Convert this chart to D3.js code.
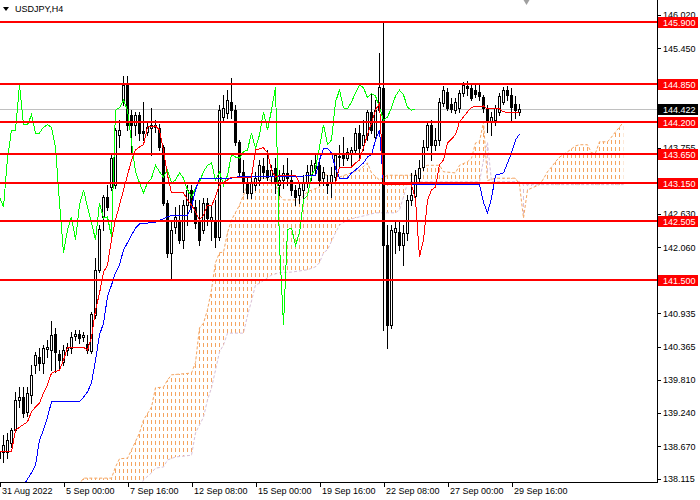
<!DOCTYPE html>
<html>
<head>
<meta charset="utf-8">
<script src="https://cdn.jsdelivr.net/npm/d3@7"></script>
<style>
  html, body { margin: 0; padding: 0; background: #fff; }
  svg { display: block; }
  text { font-family: 'Liberation Sans', Arial, sans-serif; }
</style>
</head>
<body>
<div id="chart"></div>
<script>
// USDJPY H4 candles, one entry per bar (bar 0 = 31 Aug 2022)
const barOpen = [138.47,138.58,138.58,138.73,138.95,139.46,139.51,139.26,139.55,140.06,
  140.19,140.09,140.33,140.31,140.58,140.24,140.11,140.31,140.35,140.55,
  140.58,140.53,140.41,140.29,140.91,141.68,142.58,142.92,143.09,143.12,
  143.98,144.57,144.83,144.32,144.15,144.32,144.04,144.03,144.10,144.15,
  144.10,143.77,142.82,141.97,142.41,142.50,142.19,142.78,143.04,142.75,
  142.53,142.36,142.82,142.53,142.53,142.24,144.28,144.35,144.54,144.40,
  143.86,143.35,143.16,142.99,143.12,143.21,143.45,143.38,143.28,143.41,
  143.12,143.21,143.33,143.21,143.04,142.95,143.04,143.18,143.29,143.41,
  143.46,143.24,143.18,143.16,143.26,143.62,143.64,143.58,143.67,143.72,
  144.01,143.81,143.98,144.37,143.94,144.40,144.78,142.10,140.74,142.33,
  142.33,142.10,142.31,142.87,142.94,143.24,143.43,143.77,144.15,143.81,
  143.89,144.52,144.71,144.51,144.40,144.44,144.69,144.81,144.78,144.74,
  144.71,144.62,144.44,144.20,144.23,144.37,144.54,144.74,144.66,144.51,
  144.37];
const barHigh = [138.78,138.87,138.90,138.99,139.60,139.68,139.68,139.68,140.06,140.28,
  140.34,140.40,140.48,140.80,140.68,140.31,140.40,140.43,140.62,140.65,
  140.65,140.62,140.57,140.96,141.88,142.44,142.95,143.12,143.64,144.10,
  144.23,144.98,144.98,144.40,144.37,144.37,144.54,144.18,144.44,144.23,
  144.16,143.81,142.87,142.50,142.75,142.78,142.87,143.12,143.12,142.87,
  142.87,142.90,142.90,142.78,142.87,144.49,144.66,144.74,144.95,144.49,
  143.89,143.55,143.24,143.29,143.35,143.55,143.58,143.72,143.46,143.58,
  143.38,143.46,143.58,143.38,143.12,143.16,143.29,143.46,143.55,143.64,
  143.58,143.43,143.29,143.43,143.67,143.81,143.94,143.75,143.77,144.10,
  144.15,144.23,144.40,144.69,144.57,145.37,145.90,142.44,142.44,142.53,
  142.50,142.44,142.95,143.33,143.38,143.55,143.89,144.20,144.23,144.10,
  144.61,144.81,144.78,144.61,144.61,144.74,144.88,144.90,144.86,144.85,
  144.83,144.66,144.49,144.37,144.49,144.69,144.79,144.81,144.78,144.64,
  144.51];
const barLow = [138.27,138.41,138.47,138.66,138.92,139.34,139.17,139.19,139.41,139.92,
  139.97,139.92,140.19,139.97,139.94,139.97,140.06,140.23,140.26,140.48,
  140.43,140.46,140.26,140.26,140.86,141.64,142.36,142.70,143.04,143.07,
  143.77,144.49,144.06,143.69,143.98,143.89,143.89,143.98,143.64,144.03,
  143.72,142.78,141.90,141.51,142.31,142.14,142.05,142.44,142.67,142.39,
  142.10,142.31,142.44,142.19,142.07,142.19,144.23,144.27,144.27,143.81,
  143.29,143.01,142.90,142.90,143.04,143.12,143.24,143.21,143.18,142.99,
  142.95,143.07,143.12,142.95,142.78,142.82,142.87,143.09,143.21,143.29,
  143.12,143.12,142.99,142.92,143.21,143.41,143.46,143.55,143.46,143.69,
  143.55,143.72,143.89,144.01,143.89,144.37,140.65,140.35,140.69,141.97,
  142.02,141.76,142.19,142.78,142.87,143.18,143.38,143.72,143.55,143.72,
  143.81,144.47,144.40,144.37,144.35,144.37,144.64,144.66,144.57,144.62,
  144.57,144.37,144.03,143.98,144.15,144.32,144.51,144.57,144.23,144.27,
  144.32];
const barClose = [138.58,138.69,138.78,138.95,139.46,139.51,139.24,139.58,139.89,140.23,
  140.09,140.34,140.36,140.57,140.28,140.14,140.31,140.36,140.53,140.58,
  140.51,140.57,140.31,140.92,141.68,142.38,142.92,142.75,143.58,144.06,
  144.06,144.83,144.15,144.15,144.32,144.01,144.01,144.11,144.15,144.11,
  143.77,142.82,141.97,142.36,142.58,142.19,142.78,143.04,142.75,142.48,
  142.19,142.82,142.56,142.58,142.24,144.40,144.44,144.57,144.40,143.86,
  143.35,143.16,142.99,143.16,143.24,143.46,143.35,143.26,143.38,143.16,
  143.21,143.33,143.24,143.04,142.92,143.07,143.18,143.35,143.46,143.50,
  143.21,143.35,143.12,143.29,143.64,143.60,143.58,143.69,143.72,144.01,
  143.75,143.98,144.37,144.06,144.40,144.79,142.10,140.74,142.36,142.39,
  142.10,142.31,142.87,142.95,143.29,143.41,143.77,144.15,143.81,143.89,
  144.54,144.74,144.44,144.42,144.54,144.69,144.83,144.78,144.61,144.68,
  144.64,144.44,144.23,144.28,144.44,144.64,144.74,144.66,144.45,144.40,
  144.422];

// Ichimoku lines: [bar, price]
const tenkanPts = [[0,138.58],[3,138.58],[4,138.95],[7,139.09],[8,139.26],[9,139.34],[10,139.41],
  [11,139.58],[12,139.72],[13,139.92],[15,139.97],[16,140.14],[17,140.35],[21,140.36],[22,140.31],
  [23,140.53],[24,140.99],[25,141.28],[26,141.64],[27,141.76],[28,142.19],[29,142.53],[30,142.78],
  [31,143.04],[32,143.29],[33,143.55],[34,143.72],[35,143.77],[36,143.81],[37,144.11],[39,144.13],
  [40,144.06],[41,143.72],[42,143.29],[43,142.99],[46,142.99],[47,142.87],[48,142.78],[49,142.67],
  [50,142.53],[51,142.61],[52,142.78],[53,142.77],[54,142.92],[55,143.13],[57,143.21],[58,143.26],
  [63,143.26],[64,143.72],[66,143.76],[67,143.67],[68,143.38],[69,143.26],[70,143.29],[74,143.29],
  [75,143.16],[84,143.16],[85,143.43],[88,143.43],[89,143.50],[90,143.55],[91,143.76],[92,143.98],
  [93,144.18],[94,144.40],[95,144.52],[96,143.13],[103,143.13],[104,142.87],[105,141.90],[106,142.19],
  [107,142.87],[108,143.04],[109,143.09],[110,143.47],[111,143.55],[112,143.84],[114,143.98],
  [115,144.20],[117,144.37],[118,144.45],[121,144.47],[122,144.42],[125,144.42],[126,144.37],[130,144.35]];
const kijunPts = [[5,137.90],[8,138.22],[9,138.35],[10,138.78],[11,138.95],[12,139.17],[13,139.43],
  [20,139.43],[21,139.51],[22,139.60],[23,139.75],[24,140.14],[25,140.57],[26,140.77],[27,141.22],
  [28,141.42],[29,141.63],[30,141.76],[31,142.02],[32,142.14],[33,142.27],[34,142.39],[35,142.46],
  [39,142.49],[42,142.58],[43,142.61],[47,142.61],[48,142.75],[49,143.04],[50,143.24],[58,143.24],
  [59,143.26],[79,143.28],[80,143.55],[81,143.75],[82,143.75],[83,143.67],[84,143.41],[85,143.24],
  [87,143.24],[88,143.33],[89,143.38],[91,143.50],[92,143.60],[93,143.64],[94,143.89],[95,144.06],
  [96,143.13],[120,143.13],[121,142.83],[122,142.65],[123,142.90],[124,143.29],[126,143.33],
  [127,143.50],[128,143.67],[129,143.89],[130,143.99]];
const senkouAPts = [[19,137.93],[21,138.13],[28,138.13],[29,138.32],[30,138.46],[32,138.47],[33,138.61],
  [35,138.90],[36,139.12],[38,139.34],[39,139.67],[41,139.68],[42,139.80],[43,139.89],[48,139.92],
  [49,140.10],[50,140.69],[51,140.77],[52,141.00],[53,141.34],[54,141.80],[55,141.97],[56,141.98],
  [57,142.31],[58,142.53],[60,142.78],[61,142.95],[62,143.13],[65,143.24],[67,143.24],[69,143.13],
  [70,142.95],[71,142.87],[75,142.87],[77,143.01],[80,143.09],[81,143.30],[85,143.26],[90,143.38],
  [92,143.50],[93,143.33],[95,143.21],[97,143.29],[104,143.29],[106,143.43],[107,143.46],[110,143.46],
  [111,143.35],[114,143.33],[115,143.46],[117,143.52],[118,143.58],[119,143.84],[120,143.86],
  [121,144.20],[122,143.20],[124,143.24],[129,143.24],[130,143.13],[131,142.56],[132,143.04],
  [133,143.07],[135,143.13],[136,143.23],[137,143.35],[138,143.43],[139,143.52],[140,143.60],
  [141,143.64],[142,143.69],[143,143.74],[144,143.79],[145,143.81],[147,143.81],[148,143.67],
  [149,143.67],[150,143.86],[152,143.86],[153,143.94],[154,144.03],[155,144.11],[156,144.20]];
const senkouBPts = [[19,137.60],[35,137.95],[36,138.10],[38,138.22],[39,138.30],[41,138.32],[42,138.44],
  [44,138.49],[48,138.52],[49,138.90],[51,139.17],[52,139.46],[53,139.67],[54,139.97],[55,140.28],
  [56,140.40],[57,140.60],[61,140.60],[62,140.90],[63,141.15],[64,141.42],[65,141.45],[68,141.59],
  [70,141.63],[73,141.64],[77,141.68],[79,141.73],[80,141.80],[81,141.97],[82,142.02],[84,142.31],
  [85,142.44],[87,142.53],[90,142.58],[94,142.65],[99,142.65],[100,142.70],[101,142.92],[102,143.16],
  [103,143.18],[120,143.18],[121,143.55],[122,143.85],[123,143.18],[130,143.18],[131,143.13],[156,143.13]];
const chikouShift = 26;

// horizontal levels and axis texts
const levelPrices = [145.900, 144.850, 144.200, 143.650, 143.150, 142.505, 141.500];
const lastPrice = 144.422;
const priceTicks = [146.020, 145.450, 143.755, 142.630, 142.060, 140.935, 140.365, 139.810, 139.240, 138.670, 138.115];
const timeTickBars = [0, 16, 32, 48, 64, 80, 96, 112, 128];
const timeTickLabels = ['31 Aug 2022', '5 Sep 00:00', '7 Sep 16:00', '12 Sep 08:00', '15 Sep 00:00',
  '19 Sep 16:00', '22 Sep 08:00', '27 Sep 00:00', '29 Sep 16:00'];
const symbolTitle = 'USDJPY,H4';

const width = 700, height = 500;
const plotW = 657, plotH = 482;

const svg = d3.select('#chart').append('svg')
    .attr('width', width)
    .attr('height', height);

const x = d3.scaleLinear().domain([0, 164]).range([-0.5, 655.5]);
const y = d3.scaleLinear().domain([138.064, 146.276]).range([plotH, 0]);

const defs = svg.append('defs');
defs.append('clipPath').attr('id', 'plot-clip')
    .append('rect').attr('width', plotW).attr('height', plotH);

// clip regions on either side of the two senkou spans
const areaDown = d3.area().x(d => x(d[0])).y0(plotH).y1(d => y(d[1]));
const areaUp = d3.area().x(d => x(d[0])).y0(0).y1(d => y(d[1]));
defs.append('clipPath').attr('id', 'above-a').append('path').attr('d', areaUp(senkouAPts));
defs.append('clipPath').attr('id', 'above-b').append('path').attr('d', areaUp(senkouBPts));
defs.append('clipPath').attr('id', 'below-a').append('path').attr('d', areaDown(senkouAPts));
defs.append('clipPath').attr('id', 'below-b').append('path').attr('d', areaDown(senkouBPts));

const plot = svg.append('g').attr('clip-path', 'url(#plot-clip)');

// Kumo cloud: dashed vertical hatching, one column per bar
const cloud = plot.append('g');
const cloudBars = d3.range(senkouAPts[0][0], senkouAPts[senkouAPts.length - 1][0] + 1);

function hatch(color, outerClip, innerClip) {
    cloud.append('g').attr('clip-path', `url(#${outerClip})`)
        .append('g').attr('clip-path', `url(#${innerClip})`)
        .attr('shape-rendering', 'crispEdges')
        .selectAll('line')
        .data(cloudBars)
        .join('line')
        .attr('x1', i => x(i)).attr('x2', i => x(i))
        .attr('y1', 0).attr('y2', plotH)
        .attr('stroke', color)
        .attr('stroke-dasharray', '4,3');
}
hatch('#F4A460', 'above-b', 'below-a');
hatch('#D8BFD8', 'above-a', 'below-b');

const line = d3.line().x(d => x(d[0])).y(d => y(d[1]));

cloud.append('path')
    .attr('d', line(senkouBPts))
    .attr('fill', 'none')
    .attr('stroke', '#D8BFD8')
    .attr('stroke-dasharray', '3,2');
cloud.append('path')
    .attr('d', line(senkouAPts))
    .attr('fill', 'none')
    .attr('stroke', '#F4A460')
    .attr('stroke-dasharray', '3,2');

// current price line
plot.append('line')
    .attr('x1', 0).attr('x2', plotW)
    .attr('y1', Math.round(y(lastPrice)) + 0.5)
    .attr('y2', Math.round(y(lastPrice)) + 0.5)
    .attr('stroke', '#C0C0C0');

// candles
const bars = d3.range(barOpen.length);
const candles = plot.append('g').attr('shape-rendering', 'crispEdges');
candles.selectAll('.wick')
    .data(bars)
    .join('line')
    .attr('class', 'wick')
    .attr('x1', i => x(i)).attr('x2', i => x(i))
    .attr('y1', i => Math.round(y(barHigh[i])))
    .attr('y2', i => Math.round(y(barLow[i])) + 1)
    .attr('stroke', '#000');
candles.selectAll('.body')
    .data(bars)
    .join('rect')
    .attr('class', 'body')
    .attr('x', i => x(i) - 1)
    .attr('y', i => Math.round(y(Math.max(barOpen[i], barClose[i]))) + 0.5)
    .attr('width', 2)
    .attr('height', i => Math.round(y(Math.min(barOpen[i], barClose[i]))) - Math.round(y(Math.max(barOpen[i], barClose[i]))))
    .attr('fill', i => barClose[i] >= barOpen[i] ? '#fff' : '#000')
    .attr('stroke', '#000');

// Chikou span: closes plotted 26 bars back
const chikouPts = bars.filter(i => i >= chikouShift).map(i => [i - chikouShift, barClose[i]]);
const lines = plot.append('g').attr('fill', 'none').attr('shape-rendering', 'crispEdges');
lines.append('path').attr('d', line(chikouPts)).attr('stroke', '#00FF00');
lines.append('path').attr('d', line(kijunPts)).attr('stroke', '#0000FF');
lines.append('path').attr('d', line(tenkanPts)).attr('stroke', '#FF0000');

// horizontal levels
svg.append('g').attr('shape-rendering', 'crispEdges')
    .selectAll('line')
    .data(levelPrices)
    .join('line')
    .attr('x1', 0).attr('x2', 662)
    .attr('y1', d => Math.round(y(d)))
    .attr('y2', d => Math.round(y(d)))
    .attr('stroke', '#FF0000')
    .attr('stroke-width', 2);

// axes
const yAxis = svg.append('g')
    .attr('transform', `translate(${plotW},0)`)
    .call(d3.axisRight(y)
        .tickValues(priceTicks)
        .tickFormat(d3.format('.3f'))
        .tickSize(4)
        .tickSizeOuter(0)
        .tickPadding(2));
yAxis.select('.domain').remove();
yAxis.selectAll('.tick line').attr('stroke', '#000').attr('shape-rendering', 'crispEdges');
yAxis.selectAll('.tick text')
    .attr('fill', '#000')
    .attr('font-size', '9px')
    .attr('font-family', "'Liberation Sans', Arial, sans-serif");

const xAxis = svg.append('g')
    .attr('transform', `translate(0,${plotH})`)
    .call(d3.axisBottom(x)
        .tickValues(timeTickBars)
        .tickFormat((d, i) => timeTickLabels[i])
        .tickSize(5)
        .tickSizeOuter(0)
        .tickPadding(1));
xAxis.select('.domain').remove();
xAxis.selectAll('.tick line').attr('stroke', '#000').attr('shape-rendering', 'crispEdges');
xAxis.selectAll('.tick text')
    .attr('text-anchor', 'start')
    .attr('x', 2)
    .attr('fill', '#000')
    .attr('font-size', '9px')
    .attr('font-family', "'Liberation Sans', Arial, sans-serif");

const frame = svg.append('g').attr('stroke', '#000').attr('shape-rendering', 'crispEdges');
frame.append('line').attr('x1', plotW + 0.5).attr('x2', plotW + 0.5).attr('y1', 0).attr('y2', plotH + 1);
frame.append('line').attr('x1', 0).attr('x2', plotW + 1).attr('y1', plotH + 0.5).attr('y2', plotH + 0.5);

// price labels on the right
function priceLabel(value, bg) {
    const cy = Math.round(y(value));
    const g = svg.append('g');
    g.append('rect')
        .attr('x', plotW + 1).attr('y', cy - 5)
        .attr('width', 40).attr('height', 11)
        .attr('fill', bg);
    g.append('text')
        .attr('x', plotW + 6).attr('y', cy + 0.5)
        .attr('dy', '0.35em')
        .attr('fill', '#fff')
        .attr('font-size', '9px')
        .text(d3.format('.3f')(value));
}
levelPrices.forEach(p => priceLabel(p, '#FF0000'));
priceLabel(lastPrice, '#000');

// title and shift marker
svg.append('path').attr('d', 'M3,7L9,7L6,11Z').attr('fill', '#000');
svg.append('text')
    .attr('x', 15).attr('y', 12)
    .attr('fill', '#000')
    .attr('font-size', '9px')
    .text(symbolTitle);
svg.append('path')
    .attr('d', `M${x(131)},0L${x(131) + 6},0L${x(131) + 3},5Z`)
    .attr('fill', '#A0A0A0');
</script>
</body>
</html>
